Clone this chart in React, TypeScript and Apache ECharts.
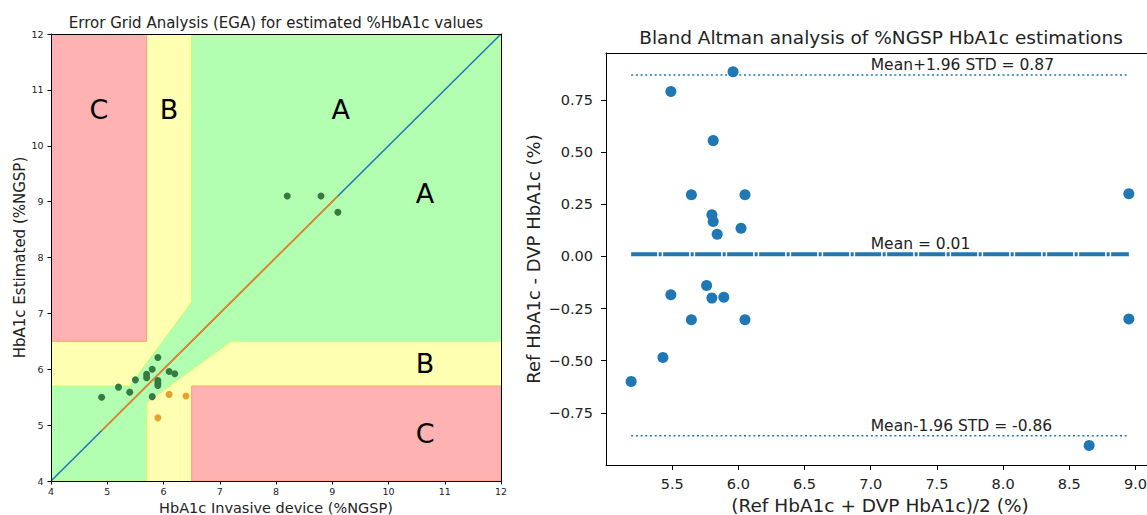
import React, { useEffect, useRef } from "react";
import * as echarts from "echarts";

// ---------- Error Grid Analysis data ----------
const egaMin = 4;
const egaMax = 12;
const refGreen = [4.9, 5.2, 5.4, 5.5, 5.7, 5.7, 5.8, 5.9, 6.1, 6.2, 5.9, 5.9, 5.9, 5.8, 8.2, 8.8, 9.1];
const estGreen = [5.5, 5.68, 5.59, 5.81, 5.91, 5.85, 6.0, 6.21, 5.96, 5.92, 5.8, 5.75, 5.71, 5.51, 9.1, 9.1, 8.81];
const refOrange = [6.1, 6.4, 5.9];
const estOrange = [5.55, 5.52, 5.13];
const identityLine = [[4, 4], [12, 12]];
const fitLine = [[4.9, 4.9], [9.1, 9.1]];

const zoneBackground = [[4, 4], [12, 4], [12, 12], [4, 12]];
const zoneA = [[4, 4], [4, 5.7], [5.4, 5.7], [6.5, 7.2], [6.5, 12], [12, 12], [12, 6.5], [7.2, 6.5], [5.7, 5.4], [5.7, 4]];
const zoneCUpper = [[4, 6.5], [5.7, 6.5], [5.7, 12], [4, 12]];
const zoneCLower = [[6.5, 4], [12, 4], [12, 5.7], [6.5, 5.7]];
const zoneLetters = ["C", "B", "A", "A", "B", "C"];
const zoneLetterX = [4.85, 6.1, 9.15, 10.65, 10.65, 10.65];
const zoneLetterY = [10.65, 10.65, 10.65, 9.15, 6.1, 4.85];

// ---------- Bland-Altman data ----------
const baXMin = 5.0;
const baXMax = 9.14;
const baYMin = -1.0;
const baYMax = 0.975;
const baMean = [5.96, 5.49, 5.81, 5.645, 6.05, 5.8, 5.81, 5.84, 6.02, 8.95, 5.76, 5.49, 5.8, 5.89, 5.645, 6.05, 8.95, 5.43, 5.19, 8.65];
const baDiff = [0.885, 0.79, 0.555, 0.295, 0.295, 0.2, 0.167, 0.106, 0.135, 0.3, -0.14, -0.184, -0.2, -0.196, -0.304, -0.304, -0.3, -0.485, -0.6, -0.906];
const meanDiff = 0.01;
const upperLoA = 0.87;
const lowerLoA = -0.86;
const loaLabels = ["Mean+1.96 STD = 0.87", "Mean = 0.01", "Mean-1.96 STD = -0.86"];
const loaValues = [upperLoA, meanDiff, lowerLoA];
const loaLabelX = 7.0;

const FONT = "DejaVu Sans";
const TXT = "#222";

export default function App() {
  const ref = useRef<HTMLDivElement>(null);
  useEffect(() => {
    const chart = echarts.init(ref.current!, null, { renderer: "svg" });
    const zones = [
      { pts: zoneBackground, fill: "#ffffb2", stroke: "none" },
      { pts: zoneA, fill: "#b2ffb2", stroke: "#c6ff66" },
      { pts: zoneCUpper, fill: "#ffb2b2", stroke: "#ff9f70" },
      { pts: zoneCLower, fill: "#ffb2b2", stroke: "#ff9f70" },
    ];
    const baXStart = Math.min(...baMean);
    const baXEnd = Math.max(...baMean);
    const frameAxis = (pos: string, gi: number, min: number, max: number) => ({
      type: "value",
      gridIndex: gi,
      position: pos,
      min,
      max,
      z: 10,
      axisLine: { show: true, onZero: false, lineStyle: { color: "#000", width: 1 } },
      axisTick: { show: false },
      axisLabel: { show: false },
      splitLine: { show: false },
    });
    const option: any = {
      animation: false,
      textStyle: { fontFamily: FONT },
      title: [
        {
          text: "Error Grid Analysis (EGA) for estimated %HbA1c values",
          left: 276,
          top: 15,
          padding: 0,
          textAlign: "center",
          textStyle: { fontFamily: FONT, fontSize: 15, fontWeight: "normal", color: TXT },
        },
        {
          text: "Bland Altman analysis of %NGSP HbA1c estimations",
          left: 881,
          top: 28,
          padding: 0,
          textAlign: "center",
          textStyle: { fontFamily: FONT, fontSize: 18.5, fontWeight: "normal", color: TXT },
        },
      ],
      grid: [
        { left: 51, top: 34, width: 450, height: 447, containLabel: false, outerBoundsMode: "none" },
        { left: 606, top: 53, width: 548, height: 412, containLabel: false, outerBoundsMode: "none" },
      ],
      xAxis: [
        {
          type: "value",
          gridIndex: 0,
          position: "bottom",
          min: egaMin,
          max: egaMax,
          interval: 1,
          z: 10,
          name: "HbA1c Invasive device (%NGSP)",
          nameLocation: "middle",
          nameGap: 15,
          nameTextStyle: { fontFamily: FONT, fontSize: 14.5, color: TXT },
          axisLine: { show: true, onZero: false, lineStyle: { color: "#000" } },
          axisTick: { show: true, inside: false, length: 3.5, lineStyle: { color: "#000" } },
          axisLabel: { fontFamily: FONT, fontSize: 9.5, color: TXT, margin: 5 },
          splitLine: { show: false },
        },
        frameAxis("top", 0, egaMin, egaMax),
        {
          type: "value",
          gridIndex: 1,
          position: "bottom",
          min: baXMin,
          max: baXMax,
          interval: 0.5,
          z: 10,
          name: "(Ref HbA1c + DVP HbA1c)/2 (%)",
          nameLocation: "middle",
          nameGap: 31,
          nameTextStyle: { fontFamily: FONT, fontSize: 18.5, color: TXT },
          axisLine: { show: true, onZero: false, lineStyle: { color: "#000" } },
          axisTick: { show: true, length: 5, lineStyle: { color: "#000" } },
          axisLabel: {
            fontFamily: FONT,
            fontSize: 14.5,
            color: TXT,
            margin: 11,
            showMinLabel: false,
            showMaxLabel: false,
            formatter: (v: number) => v.toFixed(1),
          },
          splitLine: { show: false },
        },
        frameAxis("top", 1, baXMin, baXMax),
      ],
      yAxis: [
        {
          type: "value",
          gridIndex: 0,
          position: "left",
          min: egaMin,
          max: egaMax,
          interval: 1,
          z: 10,
          name: "HbA1c Estimated (%NGSP)",
          nameLocation: "middle",
          nameGap: 24,
          nameRotate: 90,
          nameTextStyle: { fontFamily: FONT, fontSize: 15, color: TXT },
          axisLine: { show: true, onZero: false, lineStyle: { color: "#000" } },
          axisTick: { show: true, length: 3.5, lineStyle: { color: "#000" } },
          axisLabel: { fontFamily: FONT, fontSize: 9.5, color: TXT, margin: 7.5 },
          splitLine: { show: false },
        },
        frameAxis("right", 0, egaMin, egaMax),
        {
          type: "value",
          gridIndex: 1,
          position: "left",
          min: baYMin,
          max: baYMax,
          interval: 0.25,
          z: 10,
          name: "Ref HbA1c - DVP HbA1c (%)",
          nameLocation: "middle",
          nameGap: 64,
          nameRotate: 90,
          nameTextStyle: { fontFamily: FONT, fontSize: 18, color: TXT },
          axisLine: { show: true, onZero: false, lineStyle: { color: "#000" } },
          axisTick: { show: true, length: 5, lineStyle: { color: "#000" } },
          axisLabel: {
            fontFamily: FONT,
            fontSize: 14.5,
            color: TXT,
            margin: 13,
            showMinLabel: false,
            showMaxLabel: false,
            formatter: (v: number) => v.toFixed(2).replace("-", "\u2212"),
          },
          splitLine: { show: false },
        },
        frameAxis("right", 1, baYMin, baYMax),
      ],
      series: [
        {
          type: "custom",
          xAxisIndex: 0,
          yAxisIndex: 0,
          z: 1,
          clip: true,
          data: zones.map((_, i) => [i]),
          renderItem: (params: any, api: any) => {
            const z = zones[api.value(0)];
            return {
              type: "polygon",
              shape: { points: z.pts.map((p) => api.coord(p)) },
              style: { fill: z.fill, stroke: z.stroke, lineWidth: 1 },
            };
          },
        },
        {
          type: "line",
          xAxisIndex: 0,
          yAxisIndex: 0,
          z: 3,
          data: identityLine,
          symbol: "none",
          lineStyle: { color: "#1f77b4", width: 1.5 },
        },
        {
          type: "line",
          xAxisIndex: 0,
          yAxisIndex: 0,
          z: 3,
          data: fitLine,
          symbol: "none",
          lineStyle: { color: "#ff7f0e", width: 1.5 },
        },
        {
          type: "scatter",
          xAxisIndex: 0,
          yAxisIndex: 0,
          z: 4,
          symbolSize: 7,
          itemStyle: { color: "#367a42", opacity: 1 },
          data: refGreen.map((x, i) => [x, estGreen[i]]),
        },
        {
          type: "scatter",
          xAxisIndex: 0,
          yAxisIndex: 0,
          z: 4,
          symbolSize: 7,
          itemStyle: { color: "#e8a22c", opacity: 1 },
          data: refOrange.map((x, i) => [x, estOrange[i]]),
        },
        {
          type: "custom",
          xAxisIndex: 0,
          yAxisIndex: 0,
          z: 5,
          data: zoneLetters.map((_, i) => [zoneLetterX[i], zoneLetterY[i], i]),
          renderItem: (params: any, api: any) => {
            const c = api.coord([api.value(0), api.value(1)]);
            return {
              type: "text",
              x: c[0],
              y: c[1],
              style: {
                text: zoneLetters[api.value(2)],
                fontFamily: FONT,
                fontSize: 27,
                fill: "#000",
                align: "center",
                verticalAlign: "middle",
                textAlign: "center",
                textVerticalAlign: "middle",
              },
            };
          },
        },
        // Bland-Altman
        {
          type: "line",
          xAxisIndex: 2,
          yAxisIndex: 2,
          z: 3,
          symbol: "none",
          data: [[baXStart, upperLoA], [baXEnd, upperLoA]],
          lineStyle: { color: "#1f77b4", width: 1.5, type: [2, 2.7] },
        },
        {
          type: "line",
          xAxisIndex: 2,
          yAxisIndex: 2,
          z: 3,
          symbol: "none",
          data: [[baXStart, lowerLoA], [baXEnd, lowerLoA]],
          lineStyle: { color: "#1f77b4", width: 1.5, type: [2, 2.7] },
        },
        {
          type: "line",
          xAxisIndex: 2,
          yAxisIndex: 2,
          z: 3,
          symbol: "none",
          data: [[baXStart, meanDiff], [baXEnd, meanDiff]],
          lineStyle: { color: "#1f77b4", width: 4, type: [26, 1.5, 3, 1.5] },
        },
        {
          type: "scatter",
          xAxisIndex: 2,
          yAxisIndex: 2,
          z: 4,
          symbolSize: 11,
          itemStyle: { color: "#1f77b4", opacity: 1 },
          data: baMean.map((x, i) => [x, baDiff[i]]),
        },
        {
          type: "custom",
          xAxisIndex: 2,
          yAxisIndex: 2,
          z: 5,
          data: loaLabels.map((_, i) => [loaLabelX, loaValues[i], i]),
          renderItem: (params: any, api: any) => {
            const c = api.coord([api.value(0), api.value(1)]);
            return {
              type: "text",
              x: c[0],
              y: c[1] - 2,
              style: {
                text: loaLabels[api.value(2)],
                fontFamily: FONT,
                fontSize: 15.5,
                fill: TXT,
                align: "left",
                verticalAlign: "bottom",
                textAlign: "left",
                textVerticalAlign: "bottom",
              },
            };
          },
        },
      ],
    };
    chart.setOption(option);
    return () => chart.dispose();
  }, []);
  return (
    <div
      ref={ref}
      style={{ position: "fixed", left: 0, top: 0, width: 1147, height: 515, background: "#fff" }}
    />
  );
}
